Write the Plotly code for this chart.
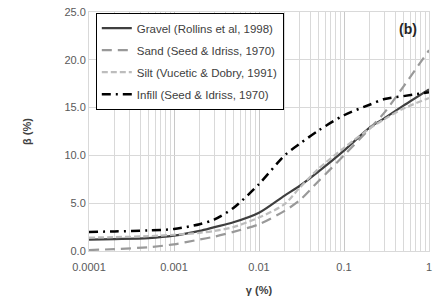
import plotly.graph_objects as go

strain = [0.0001, 0.0002, 0.0005, 0.001, 0.002, 0.003, 0.005, 0.01, 0.02, 0.03, 0.05, 0.1, 0.2, 0.3, 0.5, 1.0]

gravel = [1.2, 1.25, 1.35, 1.6, 2.1, 2.5, 3.0, 4.0, 5.8, 6.8, 8.3, 10.5, 12.9, 13.9, 15.2, 16.9]
sand   = [0.1, 0.2, 0.4, 0.7, 1.2, 1.5, 2.0, 2.8, 4.2, 5.3, 7.3, 10.0, 12.8, 14.5, 17.2, 21.0]
silt   = [1.4, 1.45, 1.55, 1.7, 1.9, 2.1, 2.5, 3.5, 4.9, 6.6, 8.6, 10.8, 12.8, 13.8, 14.9, 16.0]
infill = [2.0, 2.05, 2.15, 2.3, 2.8, 3.3, 4.5, 7.0, 10.0, 11.2, 12.6, 14.2, 15.3, 15.9, 16.2, 16.6]

series_names = ["Gravel (Rollins et al, 1998)", "Sand (Seed & Idriss, 1970)",
                "Silt (Vucetic & Dobry, 1991)", "Infill (Seed & Idriss, 1970)"]

x_tickvals = [0.0001, 0.001, 0.01, 0.1, 1]
x_ticktext = ["0.0001", "0.001", "0.01", "0.1", "1"]
y_tickvals = [0, 5, 10, 15, 20, 25]
y_ticktext = ["0.0", "5.0", "10.0", "15.0", "20.0", "25.0"]

styles = [
    dict(color="#3f3f3f", width=2.2, dash="solid"),
    dict(color="#999999", width=2.2, dash="10px,6px"),
    dict(color="#bdbdbd", width=2.2, dash="6px,3px"),
    dict(color="#000000", width=2.5, dash="9px,5px,2px,5px"),
]

fig = go.Figure()
for i, (name, vals, st) in enumerate(zip(series_names, [gravel, sand, silt, infill], styles)):
    fig.add_trace(go.Scatter(x=strain, y=vals, mode="lines", name=name, cliponaxis=False,
                             legendgroup=f"g{i}",
                             line=dict(shape="spline", smoothing=0.8, **st)))

font = "Liberation Sans"
fig.update_layout(
    width=438, height=302,
    margin=dict(l=89, r=6, t=12, b=51),
    paper_bgcolor="white", plot_bgcolor="white",
    font=dict(family=font, size=11, color="#595959"),
    showlegend=True,
    legend=dict(x=0.02, y=0.997, xanchor="left", yanchor="top",
                bordercolor="#000000", borderwidth=1, bgcolor="white",
                font=dict(family=font, size=11.5, color="#404040"),
                itemwidth=30, tracegroupgap=3),
    xaxis=dict(type="log", range=[-4, 0], tickvals=x_tickvals, ticktext=x_ticktext,
               showgrid=True, gridcolor="#c8c8c8", gridwidth=1,
               minor=dict(dtick="D1", showgrid=True, gridcolor="#d9d9d9", gridwidth=1),
               showline=True, linecolor="#d9d9d9", mirror=True, ticks="",
               zeroline=False, ticklabelstandoff=6, ticklabeloverflow="allow",
               title=dict(text="<b>γ (%)</b>", font=dict(family=font, size=11, color="#404040"), standoff=14)),
    yaxis=dict(range=[0, 25], tickvals=y_tickvals, ticktext=y_ticktext,
               showgrid=True, gridcolor="#d9d9d9", gridwidth=1,
               showline=True, linecolor="#d9d9d9", mirror=True, ticks="",
               zeroline=False,
               title=dict(text="<b>β (%)</b>", font=dict(family=font, size=11, color="#404040"), standoff=30)),
)
fig.add_annotation(text="<b>(b)</b>", xref="paper", yref="paper", x=0.97, y=0.93,
                   xanchor="right", yanchor="middle", showarrow=False,
                   font=dict(family=font, size=14, color="#262626"))

fig.write_html("out.html", config={"displayModeBar": False},
               post_script="document.body.style.margin='0';")
